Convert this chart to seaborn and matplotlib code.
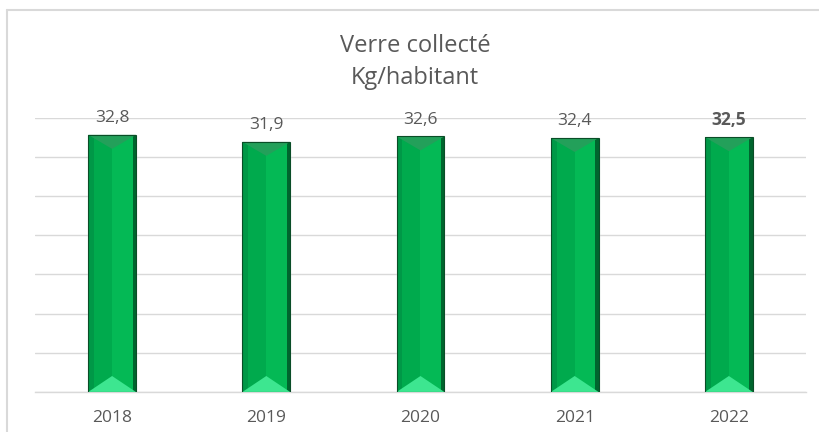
import matplotlib
matplotlib.use("Agg")
import matplotlib.pyplot as plt
from matplotlib.patches import Polygon, Rectangle
import seaborn as sns

years = ["2018", "2019", "2020", "2021", "2022"]
values = [32.8, 31.9, 32.6, 32.4, 32.5]
labels = ["32,8", "31,9", "32,6", "32,4", "32,5"]

sns.set_theme(style="white")
plt.rcParams["font.family"] = ["Open Sans", "DejaVu Sans"]

fig = plt.figure(figsize=(8.19, 4.32), dpi=100)
ax = fig.add_axes([0.0427, 0.0926, 0.9414, 0.6352])

sns.barplot(x=years, y=values, color="#00B050", width=0.31, saturation=1,
            ax=ax, zorder=2)

ax.set_ylim(0, 35)
ax.set_xlim(-0.5, 4.5)
ax.set_yticks(range(0, 36, 5))
ax.yaxis.grid(True, color="#d9d9d9", linewidth=1, zorder=0)
ax.set_yticklabels([])
ax.tick_params(axis="y", length=0)
ax.tick_params(axis="x", length=0, colors="#595959", labelsize=12.5, pad=13)
ax.set_xlabel("")
ax.set_ylabel("")
for s in ["top", "right", "left"]:
    ax.spines[s].set_visible(False)
ax.spines["bottom"].set_color("#d9d9d9")
ax.spines["bottom"].set_linewidth(1)

# bevel look, in pixels converted to data units
upp = 35 / (0.6352 * 432)
for p, lab, v in zip(ax.patches, labels, values):
    x0 = p.get_x()
    w = p.get_width()
    h = p.get_height()
    x1 = x0 + w
    xc = x0 + w / 2
    ax.add_patch(Rectangle((x0, 0), w / 2, h, color="#00aa4d", zorder=3, lw=0))
    ax.add_patch(Rectangle((xc, 0), w / 2, h, color="#04b955", zorder=3, lw=0))
    ax.add_patch(Rectangle((x0, 0), w * 0.12, h, color="#009847", zorder=3, lw=0))
    ax.add_patch(Rectangle((x1 - w * 0.07, 0), w * 0.07, h, color="#00652e", zorder=3, lw=0))
    ax.add_patch(Polygon([(x0, h), (x1, h), (xc, h - 14 * upp)], closed=True,
                         color="#23a05a", zorder=4, lw=0))
    ax.add_patch(Polygon([(x0, 0), (x1, 0), (xc, 16 * upp)], closed=True,
                         color="#3de690", zorder=4, lw=0))
    ax.add_patch(Rectangle((x0, 0), w, h, fill=False, edgecolor="#0a4d27",
                           lw=0.8, zorder=5))
    bold = "bold" if lab == labels[-1] else "normal"
    ax.text(xc, h + 1.1, lab, ha="center", va="bottom", color="#595959",
            fontsize=12.5, fontweight=bold, zorder=6)

fig.text(0.507, 0.893, "Verre collecté", ha="center", va="center",
         fontsize=17, color="#595959")
fig.text(0.507, 0.82, "Kg/habitant", ha="center", va="center",
         fontsize=17, color="#595959")

# chart frame (top and left edges visible)
fig.add_artist(plt.Line2D([0.0085, 1.0], [0.977, 0.977], color="#d9d9d9",
                          lw=1.5, transform=fig.transFigure))
fig.add_artist(plt.Line2D([0.0085, 0.0085], [0.0, 0.977], color="#d9d9d9",
                          lw=1.5, transform=fig.transFigure))

fig.savefig("out.png", dpi=100)
